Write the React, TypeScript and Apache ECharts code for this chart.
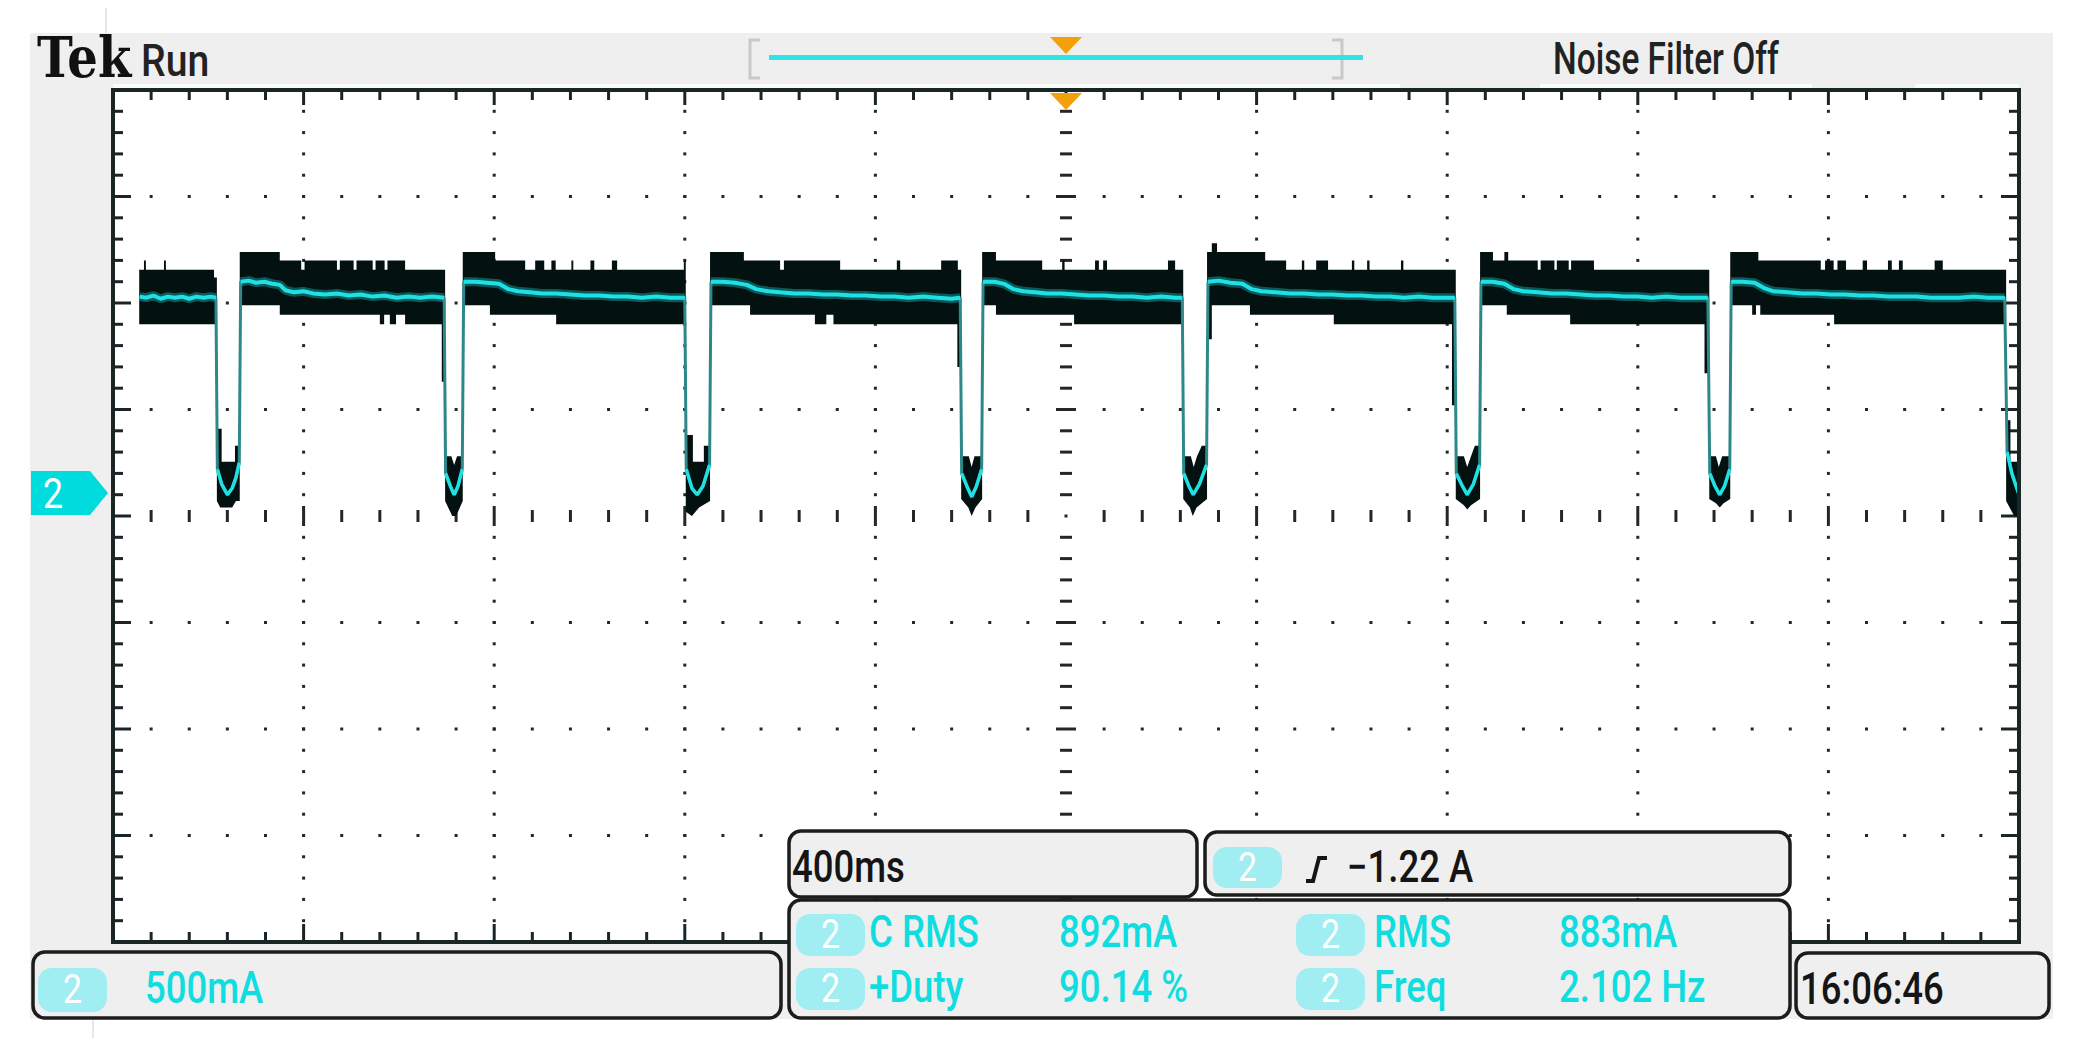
import { useEffect, useRef } from 'react';
import * as echarts from 'echarts';

// ---- axis setup (400 ms/div, 500 mA/div, ground marker 0.2 div above centre) ----
const X_MIN = 0;
const X_MAX = 4000;
const X_DIV = 400;
const X_MINOR = 80;
const Y_MIN = -2.1;
const Y_MAX = 1.9;
const Y_DIV = 0.5;
const Y_MINOR = 0.1;

// ---- trace: bright level per flat segment [ms, A] ----
const levelSegments: number[][][] = [
  [[56, 0.93], [70, 0.925], [85, 0.935], [100, 0.92], [115, 0.93], [130, 0.925], [145, 0.93], [160, 0.92], [175, 0.93], [190, 0.925], [205, 0.93], [216, 0.925]],
  [[268, 1.0], [285, 1.005], [300, 0.995], [318, 1.0], [335, 0.99], [350, 0.985], [362, 0.96], [380, 0.95], [400, 0.955], [420, 0.945], [445, 0.94], [470, 0.945], [495, 0.935], [520, 0.94], [545, 0.93], [570, 0.935], [595, 0.925], [620, 0.93], [645, 0.925], [670, 0.93], [695, 0.925]],
  [[736, 1.0], [760, 1.0], [785, 0.995], [810, 0.99], [830, 0.965], [850, 0.955], [875, 0.95], [900, 0.945], [930, 0.945], [960, 0.94], [990, 0.935], [1020, 0.935], [1050, 0.93], [1080, 0.93], [1110, 0.925], [1140, 0.93], [1170, 0.925], [1200, 0.925]],
  [[1255, 1.0], [1280, 1.0], [1305, 0.995], [1330, 0.985], [1350, 0.965], [1375, 0.955], [1400, 0.95], [1430, 0.945], [1460, 0.945], [1490, 0.94], [1520, 0.94], [1550, 0.935], [1580, 0.935], [1610, 0.93], [1640, 0.93], [1670, 0.925], [1700, 0.93], [1730, 0.925], [1760, 0.92], [1778, 0.925]],
  [[1826, 1.0], [1850, 1.0], [1870, 0.99], [1890, 0.965], [1910, 0.955], [1935, 0.95], [1960, 0.945], [1990, 0.945], [2020, 0.94], [2050, 0.935], [2080, 0.935], [2110, 0.93], [2140, 0.93], [2170, 0.925], [2200, 0.93], [2230, 0.925], [2244, 0.925]],
  [[2298, 1.0], [2320, 1.005], [2345, 0.995], [2370, 0.99], [2390, 0.965], [2410, 0.955], [2440, 0.95], [2470, 0.945], [2500, 0.945], [2530, 0.94], [2560, 0.94], [2590, 0.935], [2620, 0.935], [2650, 0.93], [2680, 0.93], [2710, 0.925], [2740, 0.93], [2770, 0.925], [2800, 0.925], [2816, 0.925]],
  [[2871, 1.0], [2895, 1.0], [2920, 0.99], [2940, 0.965], [2960, 0.955], [2990, 0.95], [3020, 0.945], [3050, 0.945], [3080, 0.94], [3110, 0.935], [3140, 0.935], [3170, 0.93], [3200, 0.93], [3230, 0.925], [3260, 0.93], [3290, 0.925], [3320, 0.925], [3347, 0.925]],
  [[3396, 1.0], [3420, 1.0], [3445, 0.995], [3465, 0.97], [3485, 0.955], [3515, 0.95], [3545, 0.945], [3575, 0.945], [3605, 0.94], [3635, 0.94], [3665, 0.935], [3695, 0.935], [3725, 0.93], [3755, 0.93], [3785, 0.93], [3815, 0.925], [3845, 0.925], [3875, 0.925], [3905, 0.93], [3935, 0.925], [3970, 0.925]],
];

// ---- trace: bottoms of the current dips [ms, A] ----
const dipSegments: number[][][] = [
  [[219, 0.12], [228, 0.05], [240, 0.0], [250, 0.03], [258, 0.08], [265, 0.15]],
  [[698, 0.1], [708, 0.04], [716, 0.0], [724, 0.04], [733, 0.12]],
  [[1203, 0.12], [1215, 0.03], [1226, 0.0], [1238, 0.04], [1252, 0.14]],
  [[1781, 0.1], [1792, 0.04], [1802, -0.01], [1812, 0.04], [1823, 0.12]],
  [[2247, 0.1], [2258, 0.04], [2267, 0.0], [2280, 0.05], [2295, 0.14]],
  [[2819, 0.1], [2832, 0.04], [2842, 0.0], [2855, 0.05], [2868, 0.14]],
  [[3351, 0.1], [3362, 0.04], [3372, 0.0], [3382, 0.04], [3393, 0.12]],
  [[3975, 0.2], [3985, 0.1], [4000, 0.0]],
];

// ---- persistence (black) envelope: upper and lower edges [ms, A] ----
const envUpper: number[][] = [
  [55, 1.056], [65, 1.056], [65, 1.1], [69, 1.1], [69, 1.056], [107, 1.056], [107, 1.1], [111, 1.1], [111, 1.056], [212, 1.056], [212, 1.02], [218, 1.02],
  [218, 0.31], [228, 0.31], [228, 0.155], [256, 0.155], [256, 0.23], [266, 0.23],
  [266, 1.14], [350, 1.14], [350, 1.1], [395, 1.1], [395, 1.056], [402, 1.056], [402, 1.1], [470, 1.1], [470, 1.056], [476, 1.056], [476, 1.1], [505, 1.1], [505, 1.056], [511, 1.056], [511, 1.1], [545, 1.1], [545, 1.056], [551, 1.056], [551, 1.1], [570, 1.1], [570, 1.056], [576, 1.056], [576, 1.1], [613, 1.1], [613, 1.056], [697, 1.056],
  [697, 0.18], [710, 0.18], [716, 0.14], [722, 0.18], [734, 0.18],
  [734, 1.14], [802, 1.14], [802, 1.1], [865, 1.1], [865, 1.056], [886, 1.056], [886, 1.1], [905, 1.1], [905, 1.056], [920, 1.056], [920, 1.1], [929, 1.1], [929, 1.056], [962, 1.056], [962, 1.1], [966, 1.1], [966, 1.056], [1002, 1.056], [1002, 1.1], [1010, 1.1], [1010, 1.056], [1047, 1.056], [1047, 1.1], [1058, 1.1], [1058, 1.056], [1198, 1.056], [1198, 1.1], [1202, 1.1],
  [1202, 0.28], [1217, 0.28], [1217, 0.155], [1240, 0.155], [1240, 0.23], [1253, 0.23],
  [1253, 1.14], [1324, 1.14], [1324, 1.1], [1400, 1.1], [1400, 1.056], [1408, 1.056], [1408, 1.1], [1526, 1.1], [1526, 1.056], [1645, 1.056], [1645, 1.1], [1652, 1.1], [1652, 1.056], [1738, 1.056], [1738, 1.1], [1773, 1.1], [1773, 1.056], [1780, 1.056],
  [1780, 0.18], [1796, 0.18], [1802, 0.13], [1808, 0.18], [1824, 0.18],
  [1824, 1.14], [1853, 1.14], [1853, 1.1], [1950, 1.1], [1950, 1.056], [1992, 1.056], [1992, 1.1], [1997, 1.1], [1997, 1.056], [2061, 1.056], [2061, 1.1], [2069, 1.1], [2069, 1.056], [2078, 1.056], [2078, 1.1], [2086, 1.1], [2086, 1.056], [2214, 1.056], [2214, 1.1], [2229, 1.1], [2229, 1.056], [2246, 1.056],
  [2246, 0.18], [2262, 0.18], [2268, 0.13], [2275, 0.18], [2285, 0.23], [2296, 0.23],
  [2296, 1.14], [2306, 1.14], [2306, 1.18], [2317, 1.18], [2317, 1.14], [2418, 1.14], [2418, 1.1], [2462, 1.1], [2462, 1.056], [2495, 1.056], [2495, 1.1], [2500, 1.1], [2500, 1.056], [2525, 1.056], [2525, 1.1], [2550, 1.1], [2550, 1.056], [2600, 1.056], [2600, 1.1], [2605, 1.1], [2605, 1.056], [2632, 1.056], [2632, 1.1], [2637, 1.1], [2637, 1.056], [2703, 1.056], [2703, 1.1], [2708, 1.1], [2708, 1.056], [2818, 1.056],
  [2818, 0.18], [2835, 0.18], [2842, 0.13], [2850, 0.18], [2858, 0.23], [2869, 0.23],
  [2869, 1.14], [2896, 1.14], [2896, 1.1], [2920, 1.1], [2920, 1.14], [2928, 1.14], [2928, 1.1], [2990, 1.1], [2990, 1.056], [2996, 1.056], [2996, 1.1], [3025, 1.1], [3025, 1.056], [3030, 1.056], [3030, 1.1], [3055, 1.1], [3055, 1.056], [3060, 1.056], [3060, 1.1], [3108, 1.1], [3108, 1.056], [3350, 1.056],
  [3350, 0.18], [3364, 0.18], [3370, 0.13], [3377, 0.18], [3394, 0.18],
  [3394, 1.14], [3453, 1.14], [3453, 1.1], [3584, 1.1], [3584, 1.056], [3593, 1.056], [3593, 1.1], [3611, 1.1], [3611, 1.056], [3619, 1.056], [3619, 1.1], [3637, 1.1], [3637, 1.056], [3672, 1.056], [3672, 1.1], [3681, 1.1], [3681, 1.056], [3725, 1.056], [3725, 1.1], [3733, 1.1], [3733, 1.056], [3748, 1.056], [3748, 1.1], [3756, 1.1], [3756, 1.056], [3823, 1.056], [3823, 1.1], [3840, 1.1], [3840, 1.056], [3973, 1.056],
  [3973, 0.35], [3982, 0.35], [3982, 0.155], [4000, 0.155],
];

const envLower: number[][] = [
  [55, 0.8], [218, 0.8],
  [218, -0.03], [225, -0.06], [250, -0.06], [258, -0.03], [266, -0.03],
  [266, 0.89], [350, 0.89], [350, 0.845], [560, 0.845], [560, 0.8], [569, 0.8], [569, 0.845], [581, 0.845], [581, 0.8], [594, 0.8], [594, 0.845], [613, 0.845], [613, 0.8], [690, 0.8], [690, 0.53], [697, 0.53],
  [697, -0.03], [712, -0.1], [720, -0.1], [734, -0.03],
  [734, 0.89], [791, 0.89], [791, 0.845], [930, 0.845], [930, 0.8], [1202, 0.8],
  [1202, -0.08], [1215, -0.1], [1230, -0.06], [1253, -0.03],
  [1253, 0.89], [1337, 0.89], [1337, 0.845], [1473, 0.845], [1473, 0.8], [1497, 0.8], [1497, 0.845], [1512, 0.845], [1512, 0.8], [1772, 0.8], [1772, 0.6], [1780, 0.6],
  [1780, -0.02], [1795, -0.06], [1802, -0.1], [1810, -0.06], [1824, -0.02],
  [1824, 0.89], [1853, 0.89], [1853, 0.845], [2017, 0.845], [2017, 0.8], [2246, 0.8],
  [2246, -0.02], [2260, -0.06], [2266, -0.1], [2274, -0.06], [2296, -0.02],
  [2296, 0.73], [2306, 0.73], [2306, 0.89], [2386, 0.89], [2386, 0.845], [2562, 0.845], [2562, 0.8], [2810, 0.8], [2810, 0.42], [2818, 0.42],
  [2818, -0.02], [2835, -0.05], [2842, -0.07], [2850, -0.05], [2869, -0.02],
  [2869, 0.89], [2925, 0.89], [2925, 0.845], [3058, 0.845], [3058, 0.8], [3340, 0.8], [3340, 0.57], [3350, 0.57],
  [3350, -0.02], [3364, -0.04], [3372, -0.06], [3380, -0.04], [3394, -0.02],
  [3394, 0.89], [3440, 0.89], [3440, 0.845], [3448, 0.845], [3448, 0.89], [3457, 0.89], [3457, 0.845], [3612, 0.845], [3612, 0.8], [3973, 0.8],
  [3973, -0.03], [3990, -0.1], [4000, -0.1],
];

// ---- readouts ----
const headerTexts = { brand: 'Tek', state: 'Run', filter: 'Noise Filter Off' };
const channelLabel = '2';
const scaleText = '500mA';
const timebaseText = '400ms';
const triggerText = '\u22121.22 A';
const measureNames = ['C RMS', '+Duty', 'RMS', 'Freq'];
const measureValues = ['892mA', '90.14 %', '883mA', '2.102 Hz'];
const clockText = '16:06:46';

// ---- colours ----
const CYAN = '#1fe0e2';
const EDGE_TEAL = '#2e8788';
const ENVELOPE = '#031111';
const FRAME = '#1a2525';
const DOT = '#262626';
const PANEL = '#efefef';
const PILL = '#a0eef1';
const TEXT_CYAN = '#10dde0';
const TEXT_DARK = '#151515';
const ORANGE = '#f2a10c';
const FONT = 'Roboto, "Liberation Sans", sans-serif';

function renderGraticule(_params: any, api: any) {
  const children: any[] = [];
  const add = (cx: number, cy: number, w: number, h: number, fill: string) =>
    children.push({ type: 'rect', shape: { x: cx - w / 2, y: cy - h / 2, width: w, height: h }, style: { fill } });
  const nx = Math.round((X_MAX - X_MIN) / X_MINOR);
  const ny = Math.round((Y_MAX - Y_MIN) / Y_MINOR);
  const perX = Math.round(X_DIV / X_MINOR);
  const perY = Math.round(Y_DIV / Y_MINOR);
  const cxi = nx / 2;
  const cyi = ny / 2;
  // vertical graticule lines
  for (let m = perX; m < nx; m += perX) {
    const t = X_MIN + m * X_MINOR;
    for (let j = 1; j < ny; j++) {
      if (j === cyi) continue;
      const [x, y] = api.coord([t, Y_MIN + j * Y_MINOR]);
      if (m === cxi) add(x, y, j % perY === 0 ? 20 : 12, 3, DOT);
      else add(x, y, 3, 3, DOT);
    }
  }
  // horizontal graticule lines
  for (let j = perY; j < ny; j += perY) {
    const a = Y_MIN + j * Y_MINOR;
    for (let m = 1; m < nx; m++) {
      const [x, y] = api.coord([X_MIN + m * X_MINOR, a]);
      if (j === cyi) add(x, y, 3, m === cxi ? 3 : m % perX === 0 ? 20 : 12, DOT);
      else if (m !== cxi) add(x, y, 3, 3, DOT);
    }
  }
  // frame ticks
  for (let m = 1; m < nx; m++) {
    const t = X_MIN + m * X_MINOR;
    const major = m % perX === 0;
    const [x, yt] = api.coord([t, Y_MAX]);
    const [, yb] = api.coord([t, Y_MIN]);
    const lt = major ? 15 : 10;
    const lb = major ? 18 : 10;
    children.push({ type: 'rect', shape: { x: x - 1.5, y: yt, width: 3, height: lt }, style: { fill: FRAME } });
    children.push({ type: 'rect', shape: { x: x - 1.5, y: yb - lb, width: 3, height: lb }, style: { fill: FRAME } });
  }
  for (let j = 1; j < ny; j++) {
    const a = Y_MIN + j * Y_MINOR;
    const major = j % perY === 0;
    const [xl, y] = api.coord([X_MIN, a]);
    const [xr] = api.coord([X_MAX, a]);
    const l = major ? 18 : 10;
    children.push({ type: 'rect', shape: { x: xl, y: y - 1.5, width: l, height: 3 }, style: { fill: FRAME } });
    children.push({ type: 'rect', shape: { x: xr - l, y: y - 1.5, width: l, height: 3 }, style: { fill: FRAME } });
  }
  return { type: 'group', children };
}

function renderEnvelope(_params: any, api: any) {
  const pts = envUpper.concat(envLower.slice().reverse()).map((p) => api.coord(p));
  return { type: 'polygon', shape: { points: pts }, style: { fill: ENVELOPE } };
}

function text(t: string, x: number, y: number, fill: string, size = 44, sx = 0.85, extra: any = {}) {
  return {
    type: 'text',
    z: 30,
    x,
    y,
    scaleX: sx,
    style: {
      text: t,
      fill,
      fontSize: size,
      fontWeight: 500,
      fontFamily: FONT,
      align: 'left',
      textAlign: 'left',
      verticalAlign: 'middle',
      textVerticalAlign: 'middle',
      ...extra,
    },
  };
}

function box(x: number, y: number, w: number, h: number) {
  return { type: 'rect', z: 25, shape: { x, y, width: w, height: h, r: 12 }, style: { fill: PANEL, stroke: '#1c1c1c', lineWidth: 3.5 } };
}

function pill(x: number, y: number, w: number, h: number) {
  return [
    { type: 'rect', z: 27, shape: { x, y, width: w, height: h, r: 14 }, style: { fill: PILL } },
    {
      type: 'text',
      z: 28,
      x: x + w / 2,
      y: y + h / 2,
      scaleX: 0.85,
      style: { text: channelLabel, fill: '#ffffff', fontSize: 40, fontFamily: FONT, align: 'center', textAlign: 'center', verticalAlign: 'middle', textVerticalAlign: 'middle' },
    },
  ];
}

function buildOption() {
  const fullTrace: number[][] = [];
  levelSegments.forEach((seg, i) => {
    fullTrace.push(...seg);
    if (dipSegments[i]) fullTrace.push(...dipSegments[i]);
  });

  const series: any[] = [
    { type: 'custom', name: 'graticule', z: 1, silent: true, clip: false, data: [[0, 0]], renderItem: renderGraticule },
    { type: 'custom', name: 'envelope', z: 2, silent: true, data: [[0, 0]], renderItem: renderEnvelope },
    {
      type: 'line', name: 'edges', z: 3, silent: true, symbol: 'none', showSymbol: false,
      data: fullTrace, lineStyle: { color: EDGE_TEAL, width: 3 },
    },
  ];
  levelSegments.forEach((seg, i) => {
    series.push({
      type: 'line', name: 'fuzz' + i, z: 4, silent: true, symbol: 'none', showSymbol: false,
      data: seg, lineStyle: { color: 'rgba(20, 175, 180, 0.45)', width: 9 },
    });
    series.push({
      type: 'line', name: 'level' + i, z: 5, silent: true, symbol: 'none', showSymbol: false,
      data: seg, lineStyle: { color: CYAN, width: 4 },
    });
  });
  dipSegments.forEach((seg, i) => {
    series.push({
      type: 'line', name: 'dip' + i, z: 5, silent: true, symbol: 'none', showSymbol: false,
      data: seg, lineStyle: { color: CYAN, width: 3.5 },
    });
  });

  const graphic: any[] = [
    // panel & plot background
    { type: 'rect', z: -20, shape: { x: 30, y: 33, width: 2023, height: 986 }, style: { fill: PANEL } },
    { type: 'rect', z: -19, shape: { x: 113, y: 84, width: 1287, height: 4 }, style: { fill: '#fbfbfb' } },
    { type: 'rect', z: -19, shape: { x: 1540, y: 84, width: 272, height: 4 }, style: { fill: '#fbfbfb' } },
    { type: 'rect', z: -19, shape: { x: 1915, y: 84, width: 104, height: 4 }, style: { fill: '#fbfbfb' } },
    { type: 'rect', z: -10, shape: { x: 113, y: 90, width: 1906, height: 852 }, style: { fill: '#ffffff' } },
    { type: 'rect', z: 15, shape: { x: 113, y: 90, width: 1906, height: 852 }, style: { fill: 'none', stroke: FRAME, lineWidth: 4 } },
    { type: 'line', z: -19, shape: { x1: 106, y1: 8, x2: 106, y2: 33 }, style: { stroke: '#d0d0d0', lineWidth: 1 } },
    { type: 'line', z: -19, shape: { x1: 93, y1: 1020, x2: 93, y2: 1038 }, style: { stroke: '#d0d0d0', lineWidth: 1 } },
    // header
    {
      type: 'text', z: 30, x: 37, y: 57, scaleX: 0.86,
      style: { text: headerTexts.brand, fill: '#111111', fontSize: 56, fontWeight: 'bold', fontFamily: '"DejaVu Serif", "Liberation Serif", serif', align: 'left', textAlign: 'left', verticalAlign: 'middle', textVerticalAlign: 'middle' },
    },
    text(headerTexts.state, 141, 61, '#222222', 45, 0.87),
    text(headerTexts.filter, 1553, 59, '#222222', 44, 0.76),
    { type: 'polyline', z: 20, shape: { points: [[760, 40], [750, 40], [750, 78], [760, 78]] }, style: { stroke: '#c9c9c9', lineWidth: 3, fill: 'none' } },
    { type: 'polyline', z: 20, shape: { points: [[1332, 40], [1342, 40], [1342, 78], [1332, 78]] }, style: { stroke: '#c9c9c9', lineWidth: 3, fill: 'none' } },
    { type: 'rect', z: 21, shape: { x: 769, y: 55, width: 594, height: 5 }, style: { fill: '#2ee4e6' } },
    { type: 'polygon', z: 22, shape: { points: [[1050, 37], [1082, 37], [1066, 54]] }, style: { fill: ORANGE } },
    { type: 'polygon', z: 22, shape: { points: [[1050, 93], [1082, 93], [1066, 110]] }, style: { fill: ORANGE } },
    // channel ground marker
    { type: 'polygon', z: 22, shape: { points: [[31, 471], [90, 471], [108, 493], [90, 515], [31, 515]] }, style: { fill: '#00dcdd' } },
    {
      type: 'text', z: 23, x: 53, y: 494, scaleX: 0.85,
      style: { text: channelLabel, fill: '#ffffff', fontSize: 42, fontFamily: FONT, align: 'center', textAlign: 'center', verticalAlign: 'middle', textVerticalAlign: 'middle' },
    },
    // bottom readouts
    box(33, 952, 748, 66),
    ...pill(38, 968, 69, 44),
    text(scaleText, 145, 988, TEXT_CYAN, 44, 0.83),
    box(789, 831, 408, 66),
    text(timebaseText, 792, 867, TEXT_DARK, 44, 0.83),
    box(1205, 832, 585, 63),
    ...pill(1213, 847, 69, 41),
    { type: 'polyline', z: 30, shape: { points: [[1306, 881], [1313, 881], [1319, 858], [1327, 858]] }, style: { stroke: TEXT_DARK, lineWidth: 4, fill: 'none' } },
    text(triggerText, 1347, 867, TEXT_DARK, 44, 0.83),
    box(789, 900, 1001, 118),
    ...pill(796, 914, 69, 42),
    ...pill(796, 968, 69, 42),
    ...pill(1296, 914, 69, 42),
    ...pill(1296, 968, 69, 42),
    text(measureNames[0], 869, 932, TEXT_CYAN, 44, 0.83),
    text(measureValues[0], 1059, 932, TEXT_CYAN, 44, 0.83),
    text(measureNames[1], 869, 987, TEXT_CYAN, 44, 0.83),
    text(measureValues[1], 1059, 987, TEXT_CYAN, 44, 0.83),
    text(measureNames[2], 1374, 932, TEXT_CYAN, 44, 0.83),
    text(measureValues[2], 1559, 932, TEXT_CYAN, 44, 0.83),
    text(measureNames[3], 1374, 987, TEXT_CYAN, 44, 0.83),
    text(measureValues[3], 1559, 987, TEXT_CYAN, 44, 0.83),
    box(1796, 953, 253, 65),
    text(clockText, 1800, 989, TEXT_DARK, 44, 0.83),
  ];

  return {
    animation: false,
    backgroundColor: '#ffffff',
    grid: { left: 113, top: 90, width: 1906, height: 852, show: false },
    xAxis: { type: 'value', min: X_MIN, max: X_MAX, show: false },
    yAxis: { type: 'value', min: Y_MIN, max: Y_MAX, show: false },
    series,
    graphic,
  };
}

export default function App() {
  const ref = useRef<HTMLDivElement>(null);
  useEffect(() => {
    document.body.style.margin = '0';
    const chart = echarts.init(ref.current as HTMLDivElement, null, { renderer: 'svg' });
    chart.setOption(buildOption() as any);
    return () => chart.dispose();
  }, []);
  return <div ref={ref} style={{ width: 2085, height: 1047 }} />;
}
